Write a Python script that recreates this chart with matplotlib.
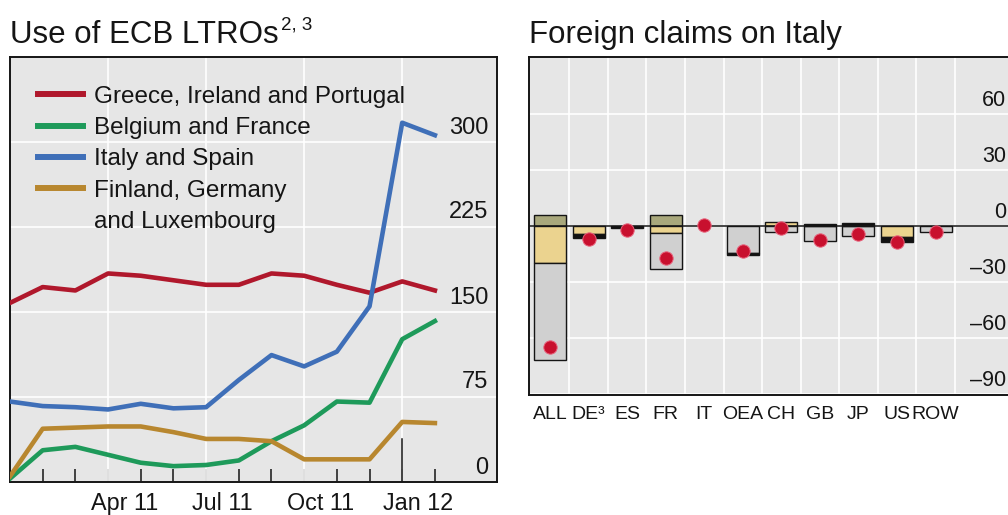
import matplotlib
matplotlib.use('Agg')
import matplotlib.pyplot as plt
from matplotlib.transforms import ScaledTranslation
from matplotlib.lines import Line2D
import numpy as np

plt.rcParams['font.family'] = ['Liberation Sans', 'DejaVu Sans']
TXT = '#151515'

# ---------------- data: left panel (EUR bn) ----------------
months = list(range(14))            # month starts, Jan 2011 .. Feb 2012
gip = [158, 172, 169, 184, 182, 178, 174, 174, 184, 182, 174, 167, 177, 169]
bef = [3, 28, 31, 24, 17, 14, 15, 19, 36, 50, 71, 70, 126, 142]
itsp = [71, 67, 66, 64, 69, 65, 66, 90, 112, 102, 115, 155, 317, 306]
fgl = [5, 47, 48, 49, 49, 44, 38, 38, 36, 20, 20, 20, 53, 52]
series_labels = ["Greece, Ireland and Portugal", "Belgium and France",
                 "Italy and Spain", "Finland, Germany"]
series_label_cont = "and Luxembourg"
line_colors = ['#b0182c', '#1e9a5a', '#3f6fb8', '#b8872f']
month_ticks = list(range(1, 14))
quarter_lines = [3, 6, 9, 12]
year_tick = 12
xlabel_pos = [3.5, 6.5, 9.5, 12.5]
xlabels = ['Apr 11', 'Jul 11', 'Oct 11', 'Jan 12']
left_yticks = [0, 75, 150, 225, 300]

# ---------------- data: right panel ----------------
cats = ["ALL", "DE\u00b3", "ES", "FR", "IT", "OEA", "CH", "GB", "JP", "US", "ROW"]
comp_olive = [6, 0, 0, 6, 0, 0, 0, 0, 0, 0, 0]
comp_tan = [-20, -4.6, 0, -4, 0, 0, 1.8, 0, 0, -5.9, 0]
comp_grey = [-52, 0, 0, -19, 0, -14.3, -3.2, -8.2, -5.5, 0, -3.4]
comp_black = [0, -1.8, -1.4, 0, 0, -1.4, 0, 0.9, 1.3, -2.7, 0]
total_change = [-65, -6.8, -2.0, -17.5, 0.3, -13.4, -1.0, -7.7, -4.6, -8.6, -3.4]
comp_colors = ['#a9a87c', '#ebd38f', '#d0d0d0', '#111111']
right_yticks = [60, 30, 0, -30, -60, -90]

# ---------------- figure ----------------
W, H = 1008, 515
fig = plt.figure(figsize=(W / 100, H / 100), dpi=100)


def axrect(l, t, r, b):
    return [l / W, 1 - b / H, (r - l) / W, (b - t) / H]


def px(dx, dy):
    return ScaledTranslation(dx / 100, dy / 100, fig.dpi_scale_trans)


BG = '#e6e6e6'

# ---- left panel ----
ax1 = fig.add_axes(axrect(10, 57, 497, 482))
ax1.set_facecolor(BG)
ax1.set_axisbelow(True)
for vals, col in zip([gip, bef, itsp, fgl], line_colors):
    ax1.plot(months, vals, color=col, lw=3.3, solid_joinstyle='round', zorder=3)
ax1.set_xlim(0, 14.9)
ax1.set_ylim(0, 375)
ax1.set_yticks(left_yticks)
ax1.tick_params(axis='y', length=0, labelleft=False)
ax1.grid(axis='y', color='white', lw=1.2)
for q in quarter_lines:
    ax1.axvline(q, color='white', lw=1.2, zorder=0.6)
ax1.set_xticks(month_ticks, [''] * len(month_ticks))
ax1.set_xticks(xlabel_pos, xlabels, minor=True)
ax1.tick_params(axis='x', which='major', direction='in', length=9.4, width=1.1,
                color=TXT)
ax1.tick_params(axis='x', which='minor', length=0, pad=7.5, labelsize=16.8,
                labelcolor=TXT)
ax1.axvline(year_tick, ymin=0, ymax=43 / 425, color=TXT, lw=1.1, zorder=4)
ytr1 = ax1.get_yaxis_transform() + px(0, 8.5)
for v in left_yticks:
    ax1.text(0.982, v, str(v), transform=ytr1, ha='right', va='baseline',
             fontsize=17, color=TXT)
for s in ax1.spines.values():
    s.set_color(TXT)
    s.set_linewidth(1.4)

handles = [Line2D([], [], color=c, lw=4.3) for c in line_colors]
handles.append(Line2D([], [], color='none', lw=0))
leg = ax1.legend(handles, series_labels + [series_label_cont], loc='upper left',
                 bbox_to_anchor=(0.058, 0.932), frameon=False, borderpad=0,
                 borderaxespad=0, handlelength=1.85, handletextpad=0.45,
                 labelspacing=0.38, fontsize=17.5)
for t in leg.get_texts():
    t.set_color(TXT)

t1 = fig.text(10 / W, 1 - 42.7 / H, "Use of ECB LTROs", fontsize=22.5, color=TXT,
              ha='left', va='baseline')
fig.canvas.draw()
bb = t1.get_window_extent()
fig.text((bb.x1 + 2) / W, 1 - 29.5 / H, "2, 3", fontsize=13.5, color=TXT,
         ha='left', va='baseline')

# ---- right panel ----
ax2 = fig.add_axes(axrect(529, 57, 1015, 395))
ax2.set_facecolor(BG)
ax2.set_axisbelow(True)
x = np.arange(len(cats))
pos_bottom = np.zeros(len(cats))
neg_bottom = np.zeros(len(cats))
for vals, col in zip([comp_olive, comp_tan, comp_grey, comp_black], comp_colors):
    v = np.array(vals, dtype=float)
    pm = v > 0
    nm = v < 0
    if pm.any():
        ax2.bar(x[pm], v[pm], bottom=pos_bottom[pm], width=0.83, color=col,
                edgecolor=TXT, linewidth=1.0, zorder=2)
    if nm.any():
        ax2.bar(x[nm], v[nm], bottom=neg_bottom[nm], width=0.83, color=col,
                edgecolor=TXT, linewidth=1.0, zorder=2)
    pos_bottom += np.where(pm, v, 0)
    neg_bottom += np.where(nm, v, 0)
ax2.axhline(0, color=TXT, lw=1.1, zorder=4)
ax2.plot(x, total_change, 'o', ms=9.6, color='#c8102e', mec='#e8607a', mew=0.7,
         zorder=5)
ax2.set_xlim(-0.545, 12.06)
ax2.set_ylim(-90.6, 90.4)
ax2.set_yticks(right_yticks)
ax2.tick_params(axis='y', length=0, labelleft=False)
ax2.grid(axis='y', color='white', lw=1.2)
ax2.set_xticks(x, cats)
ax2.set_xticks(np.arange(0.5, len(cats), 1), minor=True)
ax2.grid(axis='x', which='minor', color='white', lw=1.2)
ax2.tick_params(axis='x', which='both', length=0)
ax2.tick_params(axis='x', which='major', pad=8, labelsize=14, labelcolor=TXT)
ytr2 = ax2.get_yaxis_transform() + px(0, 7.5)
for v in right_yticks:
    lab = str(v).replace('-', '\u2013')
    ax2.text(0.981, v, lab, transform=ytr2, ha='right', va='baseline',
             fontsize=15.5, color=TXT)
for s in ax2.spines.values():
    s.set_color(TXT)
    s.set_linewidth(1.4)

fig.text(529 / W, 1 - 42.7 / H, "Foreign claims on Italy", fontsize=22.5, color=TXT,
         ha='left', va='baseline')

fig.savefig('out.png', dpi=100)
